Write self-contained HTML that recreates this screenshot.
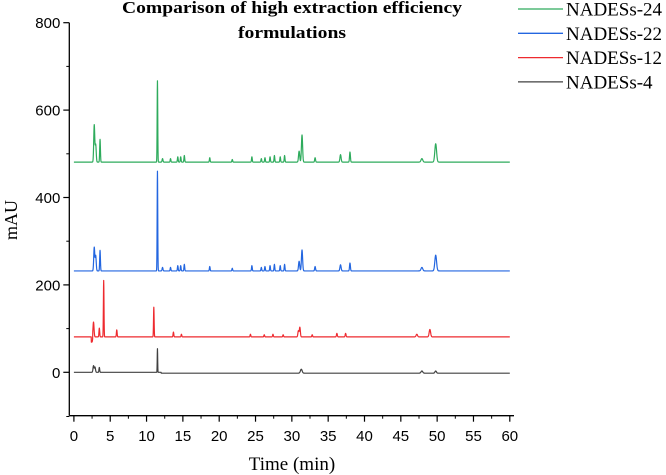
<!DOCTYPE html>
<html><head><meta charset="utf-8"><style>
html,body{margin:0;padding:0;background:#fff;width:666px;height:475px;overflow:hidden}
svg{display:block}
</style></head><body>
<svg id="chart" width="666" height="475" xmlns="http://www.w3.org/2000/svg">
<text x="292" y="13" text-anchor="middle" font-family="Liberation Serif, serif" font-weight="bold" font-size="17" textLength="340" lengthAdjust="spacingAndGlyphs">Comparison of high extraction efficiency</text>
<text x="292" y="38" text-anchor="middle" font-family="Liberation Serif, serif" font-weight="bold" font-size="17" textLength="108" lengthAdjust="spacingAndGlyphs">formulations</text>
<g id="axes"></g>
<g id="series"></g>
<g id="legend"></g>
</svg>
<script>
const seriesNames = ["NADESs-24","NADESs-22","NADESs-12","NADESs-4"];
const seriesColors = ["#2eab5c","#2366e0","#ee2a2f","#404040"];
const baselines = [481, 232, 81, 0];
const xTicks = [0,5,10,15,20,25,30,35,40,45,50,55,60];
const yTicks = [0,200,400,600,800];
const peakTimes = [
 [2.8,3.0,3.6,11.5,12.2,13.3,14.3,14.7,15.2,18.7,21.8,24.5,25.8,26.3,27.0,27.6,28.4,29.0,31.0,31.4,33.2,36.7,38.0,47.9,49.8],
 [2.8,3.0,3.6,11.5,12.2,13.3,14.3,14.7,15.2,18.7,21.8,24.5,25.8,26.3,27.0,27.6,28.4,29.0,31.0,31.4,33.2,36.7,38.0,47.9,49.8],
 [2.7,3.5,4.1,5.9,11.0,13.7,14.8,24.3,26.2,27.4,28.8,30.9,31.1,32.8,36.2,37.4,47.2,49.0],
 [2.7,2.9,3.5,11.5,31.3,47.9,49.8]
];
const peakHeights = [
 [85,40,52,186,8,8,12,12,15,10,6,12,8,10,12,15,12,15,25,62,10,17,23,8,42],
 [54,35,47,228,8,8,12,12,15,10,6,12,8,10,12,15,12,15,22,48,10,14,18,8,36],
 [34,20,129,16,68,11,6,6,5,6,5,14,22,5,8,8,6,17],
 [15,12,11,54,9,5,5]
];
const peakWidths = [
 [0.07,0.07,0.05,0.04,0.06,0.05,0.05,0.05,0.05,0.05,0.05,0.05,0.05,0.05,0.05,0.05,0.05,0.05,0.08,0.08,0.06,0.08,0.06,0.12,0.12],
 [0.07,0.07,0.05,0.04,0.06,0.05,0.05,0.05,0.05,0.05,0.05,0.05,0.05,0.05,0.05,0.05,0.05,0.05,0.08,0.08,0.06,0.08,0.06,0.12,0.12],
 [0.07,0.05,0.04,0.05,0.04,0.05,0.05,0.05,0.05,0.05,0.05,0.07,0.07,0.05,0.06,0.06,0.1,0.1],
 [0.07,0.07,0.05,0.03,0.12,0.12,0.1]
];
const NS="http://www.w3.org/2000/svg";
const X0=73.9,X1=509.8,Y0=372.3,Y800=22.7,AXL=69.3,AXB=415.7;
const xs=t=>X0+(X1-X0)*t/60;
const ys=v=>Y0+(Y800-Y0)*v/800;
function mk(tag,attrs,parent){const e=document.createElementNS(NS,tag);for(const k in attrs)e.setAttribute(k,attrs[k]);parent.appendChild(e);return e;}
const axes=document.getElementById('axes');
let l=mk('line',{x1:AXL,y1:ys(800),x2:AXL,y2:AXB,stroke:'#000','stroke-width':1.3},axes);


l=mk('line',{x1:AXL,y1:AXB,x2:514,y2:AXB,stroke:'#000','stroke-width':1.3},axes);


yTicks.forEach(v=>{
 mk('line',{x1:AXL-6,y1:ys(v),x2:AXL,y2:ys(v),stroke:'#000','stroke-width':1.2},axes);
 const t=mk('text',{x:AXL-9,y:ys(v)+5.5,'text-anchor':'end','font-family':'Liberation Sans, sans-serif','font-size':15},axes);
 t.textContent=v;
 
 
 if(v<800) mk('line',{x1:AXL-3,y1:ys(v+100),x2:AXL,y2:ys(v+100),stroke:'#000','stroke-width':1},axes);
});
mk('line',{x1:AXL-3,y1:ys(-100)+0.5,x2:AXL,y2:ys(-100)+0.5,stroke:'#000','stroke-width':1},axes);
xTicks.forEach((v,i)=>{
 mk('line',{x1:xs(v),y1:AXB,x2:xs(v),y2:AXB+6,stroke:'#000','stroke-width':1.2},axes);
 if(i<xTicks.length-1) mk('line',{x1:xs(v+2.5),y1:AXB,x2:xs(v+2.5),y2:AXB+3,stroke:'#000','stroke-width':1},axes);
 const t=mk('text',{x:xs(v),y:441,'text-anchor':'middle','font-family':'Liberation Sans, sans-serif','font-size':15},axes);
 t.textContent=v;
 
 
});
let t=mk('text',{x:292,y:470,'text-anchor':'middle','font-family':'Liberation Serif, serif','font-size':19},axes);
t.textContent='Time (min)';


t=mk('text',{x:0,y:0,'text-anchor':'middle','font-family':'Liberation Serif, serif','font-size':18,transform:'translate(17,220) rotate(-90)'},axes);
t.textContent='mAU';


const sg=document.getElementById('series');
seriesNames.forEach((name,s)=>{
 let d='';
 for(let t=0;t<=60.0001;t+=0.02){
  let v=baselines[s];
  if(s===3) v-= (t>12)?2:0;
  if(s===2 && t>2.4 && t<2.6) v-=12;
  peakTimes[s].forEach((pt,i)=>{const w=peakWidths[s][i];v+=peakHeights[s][i]*Math.exp(-((t-pt)*(t-pt))/(2*w*w));});
  d+=(d?'L':'M')+xs(t).toFixed(2)+','+ys(v).toFixed(2);
 }
 const p=mk('path',{d:d,fill:'none',stroke:seriesColors[s],'stroke-width':1.2,'stroke-linejoin':'round'},sg);
 
 
});
const lg=document.getElementById('legend');
seriesNames.forEach((name,s)=>{
 const y=9+s*24.3;
 const ln=mk('line',{x1:518,y1:y,x2:563,y2:y,stroke:seriesColors[s],'stroke-width':1.3},lg);
 
 
 const tx=mk('text',{x:566,y:y+6.5,'font-family':'Liberation Serif, serif','font-size':19},lg);
 tx.textContent=name;
 
 
});
</script>
</body></html>
